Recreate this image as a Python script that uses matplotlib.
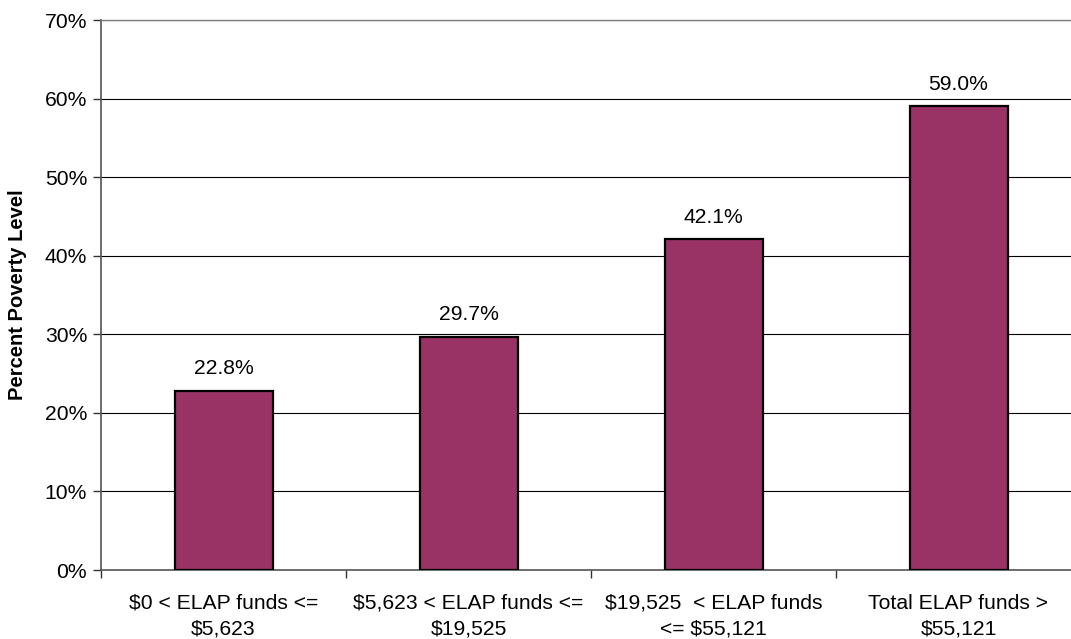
import matplotlib
matplotlib.use("Agg")
import matplotlib.pyplot as plt
from matplotlib.ticker import FixedLocator, PercentFormatter

categories = ["$0 < ELAP funds <=\n$5,623",
              "$5,623 < ELAP funds <=\n$19,525",
              "$19,525  < ELAP funds\n<= $55,121",
              "Total ELAP funds >\n$55,121"]
values = [22.8, 29.7, 42.1, 59.0]
y_ticks = [0, 10, 20, 30, 40, 50, 60, 70]

plt.rcParams['font.family'] = ['Liberation Sans', 'DejaVu Sans']

fig = plt.figure(figsize=(10.71, 6.39), dpi=100)
W, H = 1071, 639
left, right, top, bottom = 101, 1081, 20, 570
ax = fig.add_axes([left / W, 1 - bottom / H, (right - left) / W, (bottom - top) / H])

x = list(range(len(categories)))
ax.bar(x, values, width=0.40, color="#993366", edgecolor="black", linewidth=1.6, zorder=3)

FS = 15.2
for xi, v in zip(x, values):
    ax.annotate(f"{v:.1f}%", (xi, v), xytext=(0, 9), textcoords="offset points",
                ha="center", va="bottom", fontsize=FS, zorder=4)

ax.set_xlim(-0.5, len(categories) - 0.5)
ax.set_ylim(0, 70)
ax.set_yticks(y_ticks)
ax.yaxis.set_major_formatter(PercentFormatter(decimals=0))
ax.set_xticks(x)
ax.set_xticklabels(categories, fontsize=FS, linespacing=1.45)
ax.xaxis.set_minor_locator(FixedLocator([i - 0.5 for i in range(len(categories) + 1)]))
ax.tick_params(axis="x", which="major", length=0, pad=17)
ax.tick_params(axis="x", which="minor", length=6, width=1, color="#333333")
ax.tick_params(axis="y", length=6, width=1, color="#333333", labelsize=FS, pad=4)

ax.grid(axis="y", color="#000000", linewidth=0.8, zorder=0)
ax.spines["right"].set_visible(False)
ax.spines["top"].set_color("#808080")
ax.spines["top"].set_linewidth(1.0)
ax.spines["left"].set_color("#555555")
ax.spines["left"].set_linewidth(1.2)
ax.spines["bottom"].set_color("#555555")
ax.spines["bottom"].set_linewidth(1.2)

ax.set_ylabel("Percent Poverty Level", fontsize=14.5, fontweight="bold")
ax.yaxis.set_label_coords(-(101 - 27) / (right - left), 0.5)

fig.savefig("out.png", dpi=100)
